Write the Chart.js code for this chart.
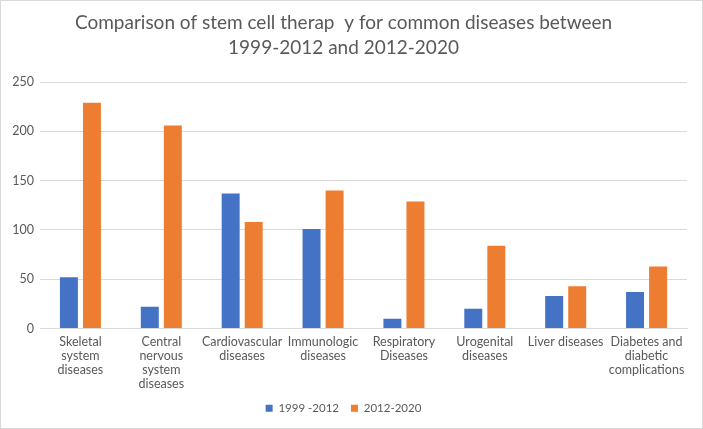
<!DOCTYPE html>
<html>
<head>
<meta charset="utf-8">
<script src="https://cdn.jsdelivr.net/npm/chart.js@4"></script>
<style>
  html, body { margin: 0; padding: 0; background: #fff; }
  #wrap { position: relative; width: 703px; height: 429px; }
  #frame { position: absolute; left: 0; top: 0; width: 701px; height: 427px; border: 1px solid #d9d9d9; pointer-events: none; }
</style>
</head>
<body>
<div id="wrap">
  <canvas id="chart" width="703" height="429"></canvas>
  <div id="frame"></div>
</div>
<script>
const categories = [
  ["Skeletal", "system", "diseases"],
  ["Central", "nervous", "system", "diseases"],
  ["Cardiovascular", "diseases"],
  ["Immunologic", "diseases"],
  ["Respiratory", "Diseases"],
  ["Urogenital", "diseases"],
  "Liver diseases",
  ["Diabetes and", "diabetic", "complications"],
];
const period1 = [52, 22, 137, 101, 10, 20, 33, 37];
const period2 = [229, 206, 108, 140, 129, 84, 43, 63];
const seriesNames = ["1999 -2012", "2012-2020"];
const yTicks = [0, 50, 100, 150, 200, 250];

const textColor = "#595959";
const fontFamily = "Lato, 'Liberation Sans', sans-serif";

const ctx = document.getElementById("chart");
new Chart(ctx, {
  type: "bar",
  data: {
    labels: categories,
    datasets: [
      {
        label: seriesNames[0],
        data: period1,
        backgroundColor: "#4472C4",
        categoryPercentage: 0.57,
        barPercentage: 0.78,
      },
      {
        label: seriesNames[1],
        data: period2,
        backgroundColor: "#ED7D31",
        categoryPercentage: 0.57,
        barPercentage: 0.78,
      },
    ],
  },
  options: {
    responsive: false,
    animation: false,
    layout: {
      padding: { left: 0, right: 16, top: 0, bottom: 5 },
    },
    plugins: {
      title: {
        display: true,
        text: ["Comparison of stem cell therap  y for common diseases between", "1999-2012 and 2012-2020"],
        color: textColor,
        font: { family: fontFamily, size: 19, weight: "normal", lineHeight: 1.32 },
        padding: { top: 10, bottom: 22 },
      },
      legend: {
        position: "bottom",
        labels: {
          color: textColor,
          font: { family: fontFamily, size: 11.5 },
          boxWidth: 7,
          boxHeight: 7,
          padding: 12,
        },
      },
      tooltip: { enabled: false },
    },
    scales: {
      x: {
        afterFit: (axis) => {
          axis.height = 62;
        },
        grid: { display: false, drawTicks: false, tickLength: 0 },
        border: { color: "#d9d9d9", width: 1 },
        ticks: {
          color: textColor,
          font: { family: fontFamily, size: 12.5, lineHeight: 1.12 },
          maxRotation: 0,
          autoSkip: false,
          padding: 6,
        },
      },
      y: {
        min: 0,
        max: 250,
        afterFit: (axis) => {
          axis.width = 40;
        },
        afterBuildTicks: (axis) => {
          axis.ticks = yTicks.map((v) => ({ value: v }));
        },
        grid: { color: "#d9d9d9", lineWidth: 1, drawTicks: false },
        border: { display: false },
        ticks: {
          color: textColor,
          font: { family: fontFamily, size: 12.5 },
          padding: 6,
        },
      },
    },
  },
});
</script>
</body>
</html>
